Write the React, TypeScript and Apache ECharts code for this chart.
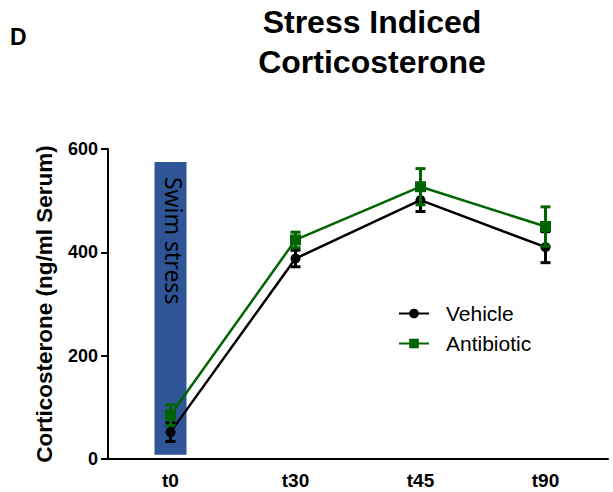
import React, { useEffect, useRef } from "react";
import * as echarts from "echarts";

const categories = ["t0", "t30", "t45", "t90"];
const vehicleMean = [52, 388, 501, 410];
const vehicleErr = [18, 16, 22, 30];
const antibioticMean = [85, 424, 527, 450];
const antibioticErr = [20, 15, 35, 38];
const yTicks = [0, 200, 400, 600];
const stressWindow = [[0, 8, 575]];

const FONT = "Liberation Sans, Arial, sans-serif";

function errorSeries(name: string, mean: number[], err: number[], color: string, z: number) {
  return {
    type: "custom",
    name: name + "-err",
    z,
    silent: true,
    data: mean.map((m, i) => [i, m - err[i], m + err[i]]),
    renderItem: (params: any, api: any) => {
      const x = api.value(0);
      const lo = api.coord([x, api.value(1)]);
      const hi = api.coord([x, api.value(2)]);
      const half = 5;
      const style = { stroke: color, lineWidth: 3 };
      return {
        type: "group",
        children: [
          { type: "line", shape: { x1: lo[0], y1: lo[1], x2: hi[0], y2: hi[1] }, style },
          { type: "line", shape: { x1: lo[0] - half, y1: lo[1], x2: lo[0] + half, y2: lo[1] }, style },
          { type: "line", shape: { x1: hi[0] - half, y1: hi[1], x2: hi[0] + half, y2: hi[1] }, style },
        ],
      };
    },
  };
}

export default function App() {
  const ref = useRef<HTMLDivElement>(null);
  useEffect(() => {
    const chart = echarts.init(ref.current!, null, { renderer: "svg" });
    chart.setOption({
      animation: false,
      backgroundColor: "#ffffff",
      title: [
        {
          text: "Stress Indiced\nCorticosterone",
          left: 367,
          top: -3,
          textAlign: "center",
          textStyle: { fontFamily: FONT, fontSize: 32, fontWeight: "bold", color: "#000", lineHeight: 40 },
        },
        {
          text: "D",
          left: 5,
          top: 20,
          textStyle: { fontFamily: FONT, fontSize: 23, fontWeight: "bold", color: "#000" },
        },
      ],
      legend: {
        orient: "vertical",
        left: 393,
        top: 298,
        itemWidth: 30,
        itemHeight: 12,
        itemGap: 9,
        data: ["Vehicle", "Antibiotic"],
        textStyle: { fontFamily: FONT, fontSize: 21, color: "#000", padding: [0, 0, 0, 12] },
      },
      grid: { left: 108, top: 149, width: 500, height: 310 },
      xAxis: {
        type: "category",
        data: categories,
        boundaryGap: true,
        axisLine: { lineStyle: { color: "#000", width: 2 } },
        axisTick: { alignWithLabel: true, length: 7, lineStyle: { color: "#000", width: 2 } },
        axisLabel: { fontFamily: FONT, fontSize: 19, fontWeight: "bold", color: "#000", margin: 12 },
      },
      yAxis: {
        type: "value",
        min: yTicks[0],
        max: yTicks[yTicks.length - 1],
        interval: 200,
        splitLine: { show: false },
        axisLine: { show: true, lineStyle: { color: "#000", width: 2 } },
        axisTick: { show: true, length: 7, lineStyle: { color: "#000", width: 2 } },
        axisLabel: { fontFamily: FONT, fontSize: 18, fontWeight: "bold", color: "#000", margin: 10 },
        name: "Corticosterone (ng/ml Serum)",
        nameLocation: "middle",
        nameGap: 52,
        nameTextStyle: { fontFamily: FONT, fontSize: 22.5, fontWeight: "bold", color: "#000" },
      },
      series: [
        {
          type: "custom",
          name: "stress",
          z: 1,
          silent: true,
          data: stressWindow,
          renderItem: (params: any, api: any) => {
            const x = api.value(0);
            const top = api.coord([x, api.value(2)]);
            const bot = api.coord([x, api.value(1)]);
            const w = api.size([1, 0])[0] * 0.256;
            return {
              type: "group",
              children: [
                {
                  type: "rect",
                  shape: { x: top[0] - w / 2, y: top[1], width: w, height: bot[1] - top[1] },
                  style: { fill: "#2F5597" },
                },
                {
                  type: "text",
                  x: top[0] + 3,
                  y: top[1] + 15,
                  rotation: -Math.PI / 2,
                  style: {
                    text: "Swim stress",
                    fontFamily: "Noto Sans, sans-serif",
                    fontSize: 23,
                    fill: "#000000",
                    align: "left",
                    verticalAlign: "middle",
                  },
                },
              ],
            };
          },
        },
        {
          type: "line",
          name: "Vehicle",
          data: vehicleMean,
          z: 3,
          symbol: "circle",
          symbolSize: 10,
          itemStyle: { color: "#000" },
          lineStyle: { color: "#000", width: 2.5 },
        },
        errorSeries("Vehicle", vehicleMean, vehicleErr, "#000", 4),
        {
          type: "line",
          name: "Antibiotic",
          data: antibioticMean,
          z: 5,
          symbol: "rect",
          symbolSize: 11,
          itemStyle: { color: "#006400" },
          lineStyle: { color: "#006400", width: 2.5 },
        },
        errorSeries("Antibiotic", antibioticMean, antibioticErr, "#006400", 6),
      ],
    });
    return () => chart.dispose();
  }, []);
  return <div ref={ref} style={{ width: 613, height: 492, position: "absolute", left: 0, top: 0 }} />;
}
